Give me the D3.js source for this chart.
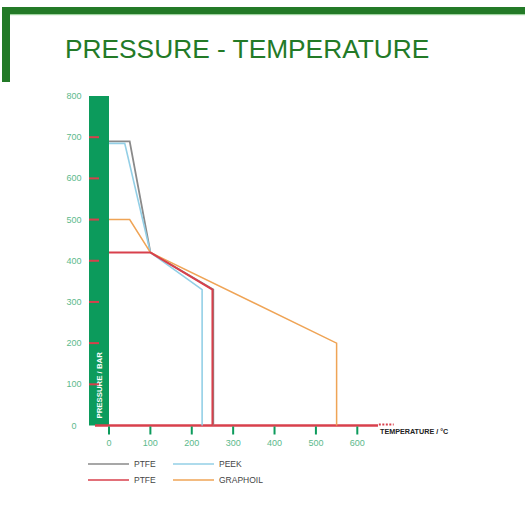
<!DOCTYPE html>
<html>
<head>
<meta charset="utf-8">
<script src="https://cdnjs.cloudflare.com/ajax/libs/d3/7.8.5/d3.min.js"></script>
<style>
  body { margin: 0; background: #fff; }
  svg { display: block; font-family: "Liberation Sans", Arial, sans-serif; }
</style>
</head>
<body>
<script>
var width = 525, height = 507;

// data: [temperature °C, pressure bar]
var ptfeGrey = [[0, 690], [50, 690], [100, 420], [252, 330], [252, 0]];
var peek = [[0, 685], [38, 685], [100, 420], [225, 330], [225, 0]];
var ptfeRed = [[0, 420], [100, 420], [250, 330], [250, 0]];
var graphoil = [[0, 500], [50, 500], [100, 420], [550, 200], [550, 0]];
var pressureTicks = [0, 100, 200, 300, 400, 500, 600, 700, 800];
var tempTicks = [0, 100, 200, 300, 400, 500, 600];
var legendItems = [
  {name: "PTFE", color: "#8a8a8a", col: 0, row: 0},
  {name: "PEEK", color: "#93cfe6", col: 1, row: 0},
  {name: "PTFE", color: "#d8404c", col: 0, row: 1},
  {name: "GRAPHOIL", color: "#efa456", col: 1, row: 1}
];

var green = "#0c9b5c", darkGreen = "#237a27", labelGreen = "#5cb98c", red = "#d8404c";

var x = d3.scaleLinear().domain([0, 600]).range([109, 357.3]);
var y = d3.scaleLinear().domain([0, 800]).range([425.5, 96]);

var svg = d3.select("body").append("svg").attr("width", width).attr("height", height);

// frame + title
svg.append("rect").attr("x", 2).attr("y", 7).attr("width", width - 2).attr("height", 7).attr("fill", darkGreen);
svg.append("rect").attr("x", 10).attr("y", 14).attr("width", width - 10).attr("height", 1.2).attr("fill", "#9fd39f");
svg.append("rect").attr("x", 2).attr("y", 7).attr("width", 8).attr("height", 75).attr("fill", darkGreen);
svg.append("text").attr("x", 65).attr("y", 58).attr("fill", darkGreen)
  .attr("font-size", "26.3px").text("PRESSURE - TEMPERATURE");

// green pressure bar
svg.append("rect").attr("x", 89).attr("y", y(800)).attr("width", 20).attr("height", y(0) - y(800)).attr("fill", green);
svg.append("text").attr("transform", "translate(102," + (y(0) - 7) + ") rotate(-90)")
  .attr("fill", "#fff").attr("font-size", "7.8px").attr("font-weight", "bold").text("PRESSURE / BAR");

// y ticks (red) and labels
svg.selectAll(".ytick").data(pressureTicks.filter(function(d){ return d > 0 && d < 800; })).enter().append("line")
  .attr("x1", 89).attr("x2", 99).attr("y1", function(d){ return y(d); }).attr("y2", function(d){ return y(d); })
  .attr("stroke", red).attr("stroke-width", 2);
svg.selectAll(".ylab").data(pressureTicks).enter().append("text")
  .attr("x", 74).attr("y", function(d){ return y(d) + 3; }).attr("text-anchor", "middle")
  .attr("fill", labelGreen).attr("font-size", "9px").text(function(d){ return d; });

// baseline
svg.append("line").attr("x1", 95).attr("x2", x(650)).attr("y1", y(0)).attr("y2", y(0))
  .attr("stroke", red).attr("stroke-width", 2.5);
svg.append("line").attr("x1", x(652)).attr("x2", x(688)).attr("y1", y(0) - 1).attr("y2", y(0) - 1)
  .attr("stroke", red).attr("stroke-width", 2).attr("stroke-dasharray", "2,1.5");
svg.append("text").attr("x", 380).attr("y", 434).attr("fill", "#222").attr("font-size", "7.2px")
  .attr("font-weight", "bold").text("TEMPERATURE / °C");

// x ticks (green) and labels
svg.selectAll(".xtick").data(tempTicks).enter().append("line")
  .attr("x1", function(d){ return x(d); }).attr("x2", function(d){ return x(d); })
  .attr("y1", y(0) + 1).attr("y2", y(0) + 9).attr("stroke", green).attr("stroke-width", 2);
svg.selectAll(".xlab").data(tempTicks).enter().append("text")
  .attr("x", function(d){ return x(d); }).attr("y", 446).attr("text-anchor", "middle")
  .attr("fill", labelGreen).attr("font-size", "9px").text(function(d){ return d; });

// series
var line = d3.line().x(function(d){ return x(d[0]); }).y(function(d){ return y(d[1]); });
[[ptfeGrey, "#8a8a8a", 1.8], [peek, "#93cfe6", 1.6], [graphoil, "#efa456", 1.5], [ptfeRed, red, 2]].forEach(function(s){
  svg.append("path").attr("d", line(s[0])).attr("fill", "none").attr("stroke", s[1]).attr("stroke-width", s[2]);
});

// legend
var lg = svg.selectAll(".leg").data(legendItems).enter().append("g")
  .attr("transform", function(d){ return "translate(" + (88 + d.col * 85) + "," + (464 + d.row * 16) + ")"; });
lg.append("line").attr("x1", 0).attr("x2", 41).attr("stroke", function(d){ return d.color; }).attr("stroke-width", 1.6);
lg.append("text").attr("x", 46).attr("y", 3).attr("fill", "#444").attr("font-size", "8.5px").text(function(d){ return d.name; });
</script>
</body>
</html>
